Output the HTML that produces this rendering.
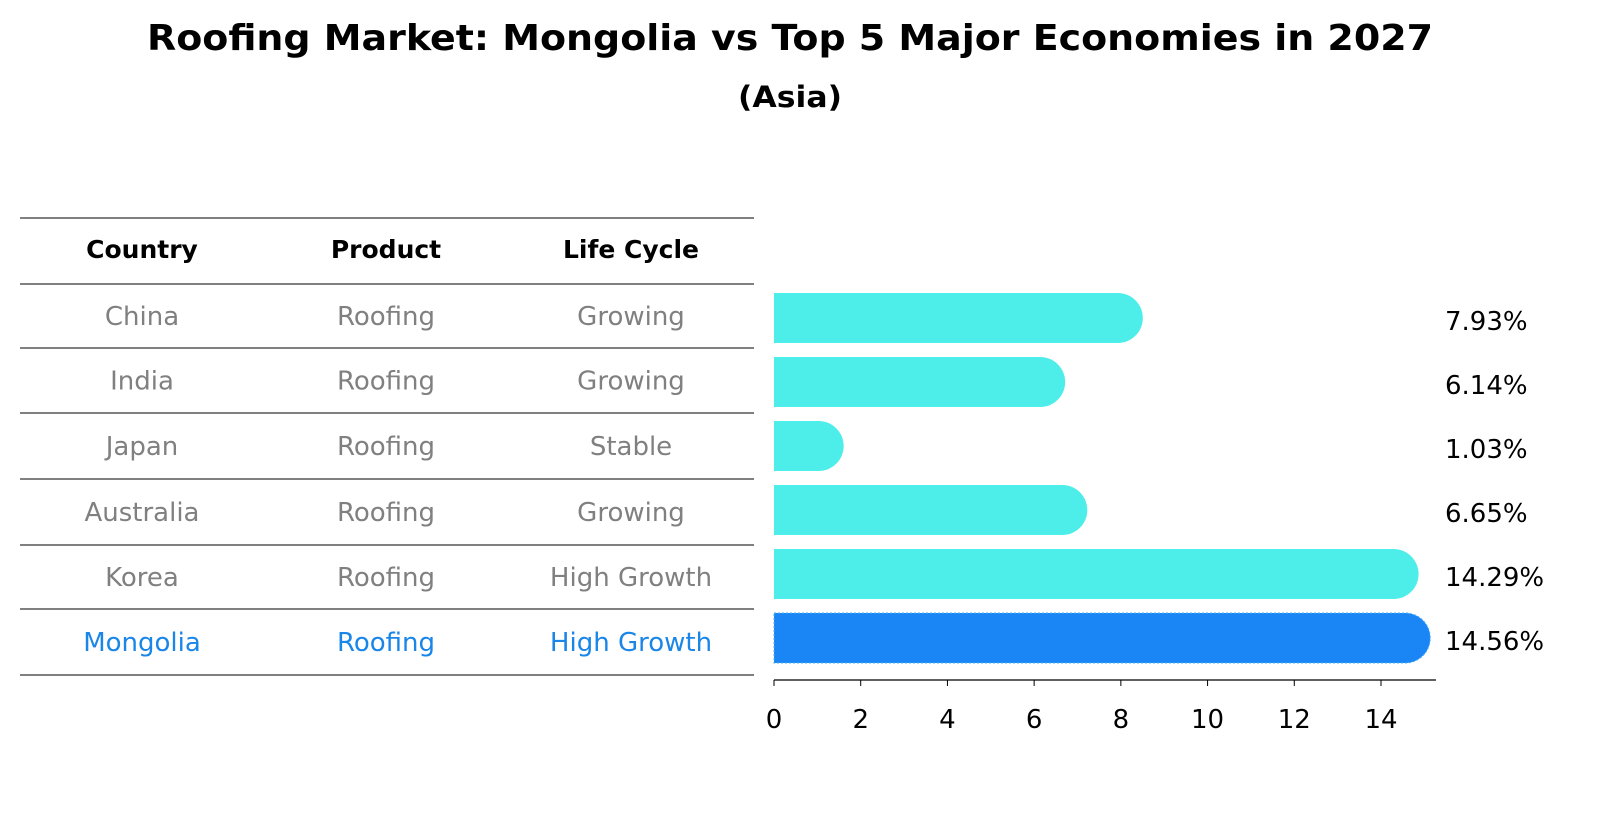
<!DOCTYPE html>
<html><head><meta charset="utf-8"><style>
body{margin:0;background:#fff;font-family:"Liberation Sans","DejaVu Sans",sans-serif;}
svg text{font-family:"DejaVu Sans","Liberation Sans",sans-serif;}
</style></head><body>
<svg id="c" width="1604" height="823" xmlns="http://www.w3.org/2000/svg">
<text x="790" y="50" text-anchor="middle" font-size="36" font-weight="bold" textLength="1286" lengthAdjust="spacingAndGlyphs">Roofing Market: Mongolia vs Top 5 Major Economies in 2027</text>
<text x="790" y="107" text-anchor="middle" font-size="29" font-weight="bold" textLength="104" lengthAdjust="spacingAndGlyphs">(Asia)</text>
<g id="tbl"></g>
<g id="bars"></g>
</svg>
<script>
const countries=["China","India","Japan","Australia","Korea","Mongolia"];
const products=["Roofing","Roofing","Roofing","Roofing","Roofing","Roofing"];
const lifecycles=["Growing","Growing","Stable","Growing","High Growth","High Growth"];
const values=[7.93,6.14,1.03,6.65,14.29,14.56];
const ticks=[0,2,4,6,8,10,12,14];
const NS="http://www.w3.org/2000/svg";
function mk(t,a,p){const e=document.createElementNS(NS,t);for(const k in a)e.setAttribute(k,a[k]);p.appendChild(e);return e;}
const tbl=document.getElementById('tbl'),bars=document.getElementById('bars');
const x0=774,kx=(1381-774)/14;
const xs=v=>x0+v*kx;
const rowY=i=>318+i*64;
const lines=[218,284,348,413,479,545,609,675];
lines.forEach((y,i)=>{const l=mk('line',{x1:20,x2:754,y1:y,y2:y,stroke:'#000','stroke-width':1},tbl);

});
const cols=[142,386,631];
["Country","Product","Life Cycle"].forEach((h,j)=>{const t=mk('text',{x:cols[j],y:258,'text-anchor':'middle','font-size':25,'font-weight':'bold'},tbl);t.textContent=h;

});
countries.forEach((c,i)=>{const last=i===countries.length-1;const col=last?'#1a86e8':'#808080';
[c,products[i],lifecycles[i]].forEach((v,j)=>{const cy=(lines[i+1]+lines[i+2])/2+9;
const t=mk('text',{x:cols[j],y:cy,'text-anchor':'middle','font-size':26,fill:col},tbl);t.textContent=v;

});});
const h=50,r=25;
values.forEach((v,i)=>{const last=i===values.length-1;const y=rowY(i)-h/2;const xe=xs(v);
const p=mk('path',{d:`M${x0},${y}H${xe}A${r},${r} 0 0 1 ${xe},${y+h}H${x0}Z`,fill:last?'#1a86f5':'#4deeea'},bars);
if(last){p.setAttribute('stroke','#4db0f5');p.setAttribute('stroke-dasharray','2,2');}


const t=mk('text',{x:1445,y:rowY(i)+12,'font-size':26},bars);t.textContent=v.toFixed(2)+'%';

});
const ax=mk('line',{x1:x0,x2:1436,y1:680,y2:680,stroke:'#000','stroke-width':1.2},bars);


ticks.forEach(tv=>{const x=xs(tv);mk('line',{x1:x,x2:x,y1:680,y2:686,stroke:'#000'},bars);
const t=mk('text',{x:x,y:728,'text-anchor':'middle','font-size':26},bars);t.textContent=tv;

});
</script>
</body></html>
